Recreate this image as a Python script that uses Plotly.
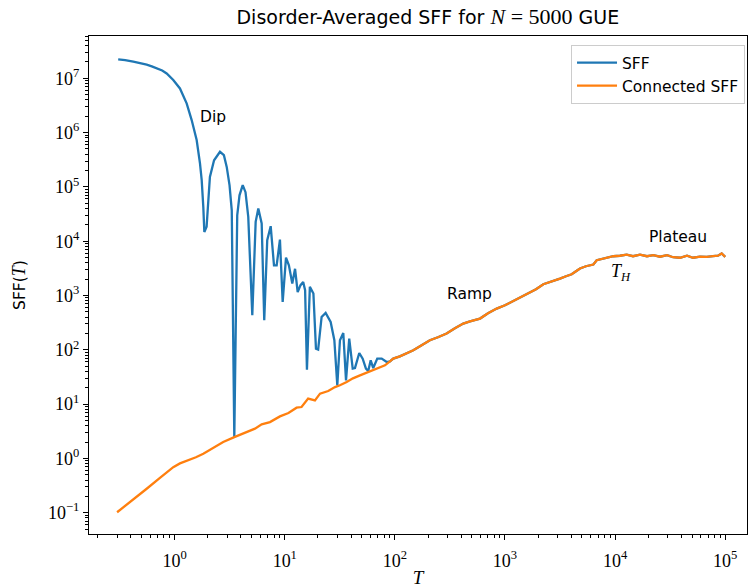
import numpy as np
import plotly.graph_objects as go

# ---------------- data ----------------
conn_T = [0.3, 0.393, 0.557, 0.735, 0.971, 1.117, 1.32, 1.56, 1.82, 2.23, 2.76, 3.48, 4.51, 5.36,
          6.17, 7.34, 9.04, 10.8, 12.8, 14.2, 16.3, 18.8, 20.9, 24.8, 28.6, 31.7,
          36.5, 41.6, 48.2, 54.7, 63.7, 73.3, 81.3, 90.2, 96.7, 111, 128, 147, 169,
          194, 208, 246, 295, 351, 418, 481, 593, 701, 841, 1000, 1189, 1397, 1686,
          1913, 2230, 2563, 3160, 3583, 4034, 4415, 4801, 5440, 6345, 6808, 7295,
          8264, 9630, 11070, 12740, 14550, 16830, 19480, 22240, 25580, 29630, 33600,
          38900, 44990, 51020, 59050, 67900, 77500, 86000, 92900, 100000]
conn_sff = [0.102, 0.155, 0.276, 0.437, 0.691, 0.81, 0.919, 1.05, 1.22, 1.53, 2.0, 2.47, 3.05, 3.53,
            4.23, 4.67, 5.94, 6.84, 8.60, 8.83, 12.6, 11.7, 15.6, 17.4, 20.6, 22.2,
            25.5, 29.8, 33.9, 37.7, 41.9, 48.2, 51.8, 61.4, 68.8, 75.9, 85.1, 97.9, 116,
            139, 150, 170, 199, 249, 304, 335, 376, 471, 574, 661, 794, 968, 1162,
            1303, 1611, 1754, 2052, 2264, 2466, 2799, 3140, 3459, 3722, 4466, 4600,
            4862, 5287, 5400, 5640, 5290, 5640, 5290, 5520, 5180, 5520, 5070,
            4960, 5400, 4960, 5180, 5140, 5290, 5400, 5930, 5140]

sff_early_T = [0.307, 0.355, 0.421, 0.49, 0.557, 0.62, 0.687, 0.77, 0.846, 0.971, 1.117, 1.285,
               1.427, 1.584, 1.698, 1.76, 1.82,
               1.86, 1.95, 2.03, 2.09, 2.28, 2.58, 2.80, 2.97, 3.15, 3.30, 3.48, 3.70,
               3.88, 4.15, 4.40, 4.66, 5.07, 5.44, 5.75, 6.17, 6.51, 6.93, 7.45, 7.98,
               8.44, 9.04, 9.57, 10.26, 10.9, 11.7, 12.4, 13.1, 13.9, 14.7, 15.3, 15.9,
               16.9, 18.2, 19.2, 20.1, 21.6, 23.5, 26.1, 28.2, 30.0, 31.7, 34.0, 36.0,
               38.5, 41.4, 43.4, 47.5, 51.0, 54.6, 57.3, 60.3, 63.6, 69.2, 75.9, 84.3]
sff_early = [2.24e7, 2.17e7, 2.02e7, 1.9e7, 1.78e7, 1.66e7, 1.53e7, 1.39e7, 1.23e7, 9.3e6, 6.5e6, 3.45e6,
             1.70e6, 7.3e5, 2.71e5, 1.33e5, 4.29e4,
             1.48e4, 1.84e4, 5.7e4, 1.53e5, 3.1e5, 4.43e5, 3.85e5, 2.34e5, 1.08e5, 3.7e4, 2.47, 3.0e4,
             7.0e4, 1.08e5, 8.0e4, 2.8e4, 433, 2.27e4, 4.0e4, 2.12e4, 350, 1.04e4, 1.89e4, 3.6e3,
             3.6e3, 1.07e4, 760, 5.0e3, 3.6e3, 1.66e3, 3.1e3, 1.16e3, 1.55e3, 1.78e3, 1.25e3, 43,
             1.44e3, 1.09e3, 105, 101, 403, 477, 325, 150, 22.2, 150, 204, 27.4,
             161, 45, 46.2, 87.3, 68.8, 45, 40.7, 64, 46.2, 68.8, 68.8, 59.6]

# late times: full SFF coincides with the connected SFF
sff_T = sff_early_T + [t for t in conn_T if t > 90]
sff = sff_early + [v for t, v in zip(conn_T, conn_sff) if t > 90]

x_tickvals = [1, 10, 100, 1000, 10000, 100000]
x_ticktext = ["10<sup>0</sup>", "10<sup>1</sup>", "10<sup>2</sup>", "10<sup>3</sup>",
              "10<sup>4</sup>", "10<sup>5</sup>"]
y_tickvals = [0.1, 1, 10, 100, 1000, 1e4, 1e5, 1e6, 1e7]
y_ticktext = ["10<sup>\u22121</sup>", "10<sup>0</sup>", "10<sup>1</sup>", "10<sup>2</sup>",
              "10<sup>3</sup>", "10<sup>4</sup>", "10<sup>5</sup>", "10<sup>6</sup>",
              "10<sup>7</sup>"]

labels = ["Dip", "Ramp", "<i>T</i><sub><i>H</i></sub>", "Plateau"]
label_T = [2.23, 481, 11300, 36900]
label_v = [1.93e6, 1055, 2600, 11900]

# ---------------- figure ----------------
SANS = "DejaVu Sans"
SERIF = "Liberation Serif"
BLUE = "#1f77b4"
ORANGE = "#ff7f0e"

fig = go.Figure()
fig.add_trace(go.Scatter(x=sff_T, y=sff, mode="lines", name="SFF",
                         line=dict(color=BLUE, width=2.3)))
fig.add_trace(go.Scatter(x=conn_T, y=conn_sff, mode="lines", name="Connected SFF",
                         line=dict(color=ORANGE, width=2.3)))

for i, (txt, tx, ty) in enumerate(zip(labels, label_T, label_v)):
    fam = SERIF if i == 2 else SANS
    fig.add_annotation(x=np.log10(tx), y=np.log10(ty), text=txt, showarrow=False,
                       font=dict(family=fam, size=18 if i == 2 else 15.5, color="black"),
                       xanchor="center", yanchor="middle")

minor_x = [m * 10.0 ** k for k in range(-1, 6) for m in range(2, 10)]
minor_y = [m * 10.0 ** k for k in range(-2, 8) for m in range(2, 10)]

axis_common = dict(type="log", showgrid=False, zeroline=False, showline=True,
                   linecolor="black", linewidth=1.2, mirror=True,
                   ticks="outside", ticklen=5, tickwidth=1, tickcolor="black",
                   tickfont=dict(family=SERIF, size=18, color="black"))

fig.update_xaxes(**axis_common, range=[-0.778, 5.198], tickmode="array",
                 tickvals=x_tickvals, ticktext=x_ticktext, ticklabelstandoff=5,
                 minor=dict(ticks="outside", ticklen=3, tickwidth=0.8, tickcolor="black",
                            tickmode="array", tickvals=minor_x, showgrid=False),
                 title=dict(text="<i>T</i>", font=dict(family=SERIF, size=19, color="black"),
                            standoff=2))
fig.update_yaxes(**axis_common, range=[-1.392, 7.779], tickmode="array",
                 tickvals=y_tickvals, ticktext=y_ticktext,
                 minor=dict(ticks="outside", ticklen=3, tickwidth=0.8, tickcolor="black",
                            tickmode="array", tickvals=minor_y, showgrid=False),
                 title=dict(text="SFF(<span style=\"font-family:'Liberation Serif';font-size:18px\"><i>T</i></span>)",
                            font=dict(family=SANS, size=15.5, color="black"), standoff=18))

fig.update_layout(
    width=748, height=588,
    margin=dict(l=89, r=1, t=36, b=54),
    paper_bgcolor="white", plot_bgcolor="white",
    title=dict(text="Disorder-Averaged SFF for <span style=\"font-family:'Liberation Serif';font-size:22px\"><i>N</i> = 5000</span> GUE",
               xref="paper", x=0.515, xanchor="center", y=0.971, yanchor="middle",
               font=dict(family=SANS, size=19, color="black")),
    legend=dict(x=0.997, xanchor="right", y=0.982, yanchor="top",
                bgcolor="rgba(255,255,255,0.8)", bordercolor="#cccccc", borderwidth=1,
                font=dict(family=SANS, size=15.5, color="black"),
                itemwidth=40, tracegroupgap=2),
    showlegend=True,
)

fig.write_html("out.html")
